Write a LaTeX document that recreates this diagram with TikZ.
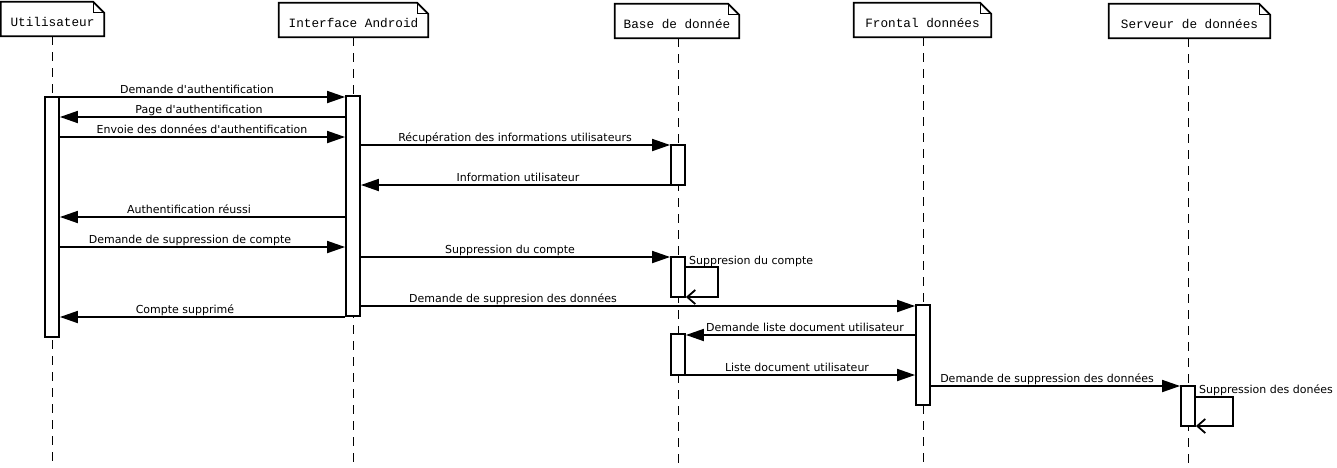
\documentclass[tikz,border=0pt]{standalone}
\usepackage{fontspec}
\setmainfont{DejaVu Sans}
\newfontfamily\hdfont{Liberation Mono}
\usetikzlibrary{arrows.meta}
\newcommand\drawhead[6]{%
  \node[headbox, minimum width=#4pt, minimum height=#5pt] (#1) at (#2,#3) {};
  \draw[line width=1.8pt, fill=white] (#1.north west) -- ([xshift=-11pt]#1.north east) -- ([yshift=-11pt]#1.north east) -- (#1.south east) -- (#1.south west) -- cycle;
  \draw[line width=0.7pt] ([xshift=-11pt]#1.north east) |- ([yshift=-11pt]#1.north east);
  \node[headtext] (#1t) at ([yshift=-7pt]#1.center) {#6};
}
\newcommand\q{\textquotesingle}
\begin{document}
\begin{tikzpicture}[x=1pt,y=-1pt,
  headbox/.style={draw=none, inner sep=0pt},
  headtext/.style={font=\hdfont\fontsize{12.7}{14}\selectfont, anchor=base, inner sep=0pt},
  lifeline/.style={line width=1pt, dash pattern=on 9pt off 7pt},
  actbox/.style={draw, fill=white, line width=1.8pt, minimum width=14pt, inner sep=0pt},
  msg/.style={line width=1.8pt, -{Triangle[length=18pt,width=12pt]}},
  selfmsg/.style={line width=1.8pt, -{Straight Barb[length=8pt,width=14pt]}},
  lbl/.style={font=\fontsize{11}{13}\selectfont, anchor=base, inner sep=0pt},
  selflbl/.style={font=\fontsize{11}{13}\selectfont, anchor=base west, inner sep=0pt}
]
\fill[white] (0,0) rectangle (1337,467);
\useasboundingbox (0,0) rectangle (1337,467);

% headers
\drawhead{u}{52.5}{19}{103}{34}{Utilisateur}
\drawhead{ia}{353.5}{20}{149}{34}{Interface Android}
\drawhead{bd}{677}{21}{124}{34}{Base de donnée}
\drawhead{fd}{922.5}{20}{137}{34}{Frontal données}
\drawhead{sd}{1189.5}{21}{161}{34}{Serveur de données}

% lifelines
\coordinate (uend) at (52,466);
\coordinate (iaend) at (353,466);
\coordinate (bdend) at (678,466);
\coordinate (fdend) at (923,466);
\coordinate (sdend) at (1188,466);
\draw[lifeline] (uend |- u.south) -- (uend);
\draw[lifeline] (iaend |- ia.south) -- (iaend);
\draw[lifeline] (bdend |- bd.south) -- (bdend);
\draw[lifeline] (fdend |- fd.south) -- (fdend);
\draw[lifeline] (sdend |- sd.south) -- (sdend);

% activation boxes
\node[actbox, minimum height=240pt] (ua) at (52,217) {};
\node[actbox, minimum height=220pt] (iaa) at (353,206) {};
\node[actbox, minimum height=40pt] (b1) at (678,165) {};
\node[actbox, minimum height=40pt] (b2) at (678,277) {};
\node[actbox, minimum height=41pt] (b3) at (678,354.5) {};
\node[actbox, minimum height=100pt] (fa) at (923,355) {};
\node[actbox, minimum height=40pt] (sa) at (1188,406) {};

% messages
\draw[msg] (ua.east |- 0,97) -- (iaa.west |- 0,97);
\node[lbl] (l1) at (197,93) {Demande d\q authentification};
\draw[msg] (iaa.west |- 0,117) -- (ua.east |- 0,117);
\node[lbl] (l2) at (199,113) {Page d\q authentification};
\draw[msg] (ua.east |- 0,137) -- (iaa.west |- 0,137);
\node[lbl] (l3) at (202,133) {Envoie des données d\q authentification};
\draw[msg] (iaa.east |- 0,145) -- (b1.west |- 0,145);
\node[lbl] (l4) at (515,141) {Récupération des informations utilisateurs};
\draw[msg] (b1.west |- 0,185) -- (iaa.east |- 0,185);
\node[lbl] (l5) at (518,181) {Information utilisateur};
\draw[msg] (iaa.west |- 0,217) -- (ua.east |- 0,217);
\node[lbl] (l6) at (189,213) {Authentification réussi};
\draw[msg] (ua.east |- 0,247) -- (iaa.west |- 0,247);
\node[lbl] (l7) at (190,243) {Demande de suppression de compte};
\draw[msg] (iaa.east |- 0,257) -- (b2.west |- 0,257);
\node[lbl] (l8) at (510,253) {Suppression du compte};
\coordinate (s1a) at (718,267);
\coordinate (s1b) at (718,297);
\draw[selfmsg] (b2.east |- s1a) -- (s1a) -- (s1b) -- (b2.east |- s1b);
\node[selflbl] (l9) at (689,264) {Suppresion du compte};
\draw[msg] (iaa.east |- 0,306) -- (fa.west |- 0,306);
\node[lbl] (l10) at (513,302) {Demande de suppresion des données};
\draw[msg] (iaa.west |- 0,317) -- (ua.east |- 0,317);
\node[lbl] (l11) at (185,313) {Compte supprimé};
\draw[msg] (fa.west |- 0,335) -- (b3.east |- 0,335);
\node[lbl] (l12) at (805,331) {Demande liste document utilisateur};
\draw[msg] (b3.east |- 0,375) -- (fa.west |- 0,375);
\node[lbl] (l13) at (797,371) {Liste document utilisateur};
\draw[msg] (fa.east |- 0,386) -- (sa.west |- 0,386);
\node[lbl] (l14) at (1047,382) {Demande de suppression des données};
\coordinate (s2a) at (1233,397);
\coordinate (s2b) at (1233,426);
\draw[selfmsg] (sa.east |- s2a) -- (s2a) -- (s2b) -- (sa.east |- s2b);
\node[selflbl] (l15) at (1199,393) {Suppression des donées};
\end{tikzpicture}
\end{document}
